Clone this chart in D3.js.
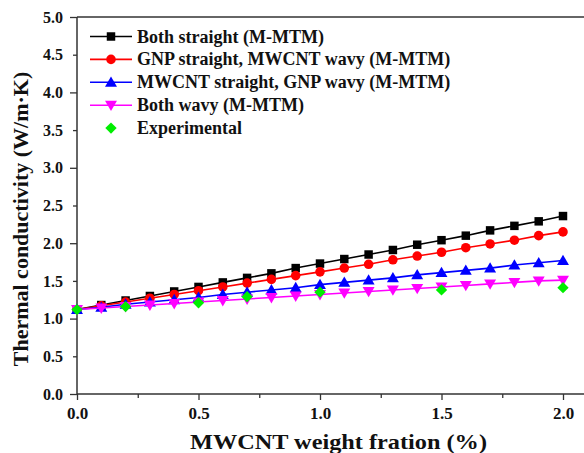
<!DOCTYPE html>
<html>
<head>
<meta charset="utf-8">
<script src="https://cdn.jsdelivr.net/npm/d3@7"></script>
<style>
  body { margin: 0; background: #fff; }
  text { font-family: "Liberation Serif", "Times New Roman", serif; font-weight: bold; }
</style>
</head>
<body>
<div class="chart"></div>
<script>
// data
var xValues = [0, 0.1, 0.2, 0.3, 0.4, 0.5, 0.6, 0.7, 0.8, 0.9, 1.0,
               1.1, 1.2, 1.3, 1.4, 1.5, 1.6, 1.7, 1.8, 1.9, 2.0];
var bothStraight = [1.12, 1.18, 1.24, 1.30, 1.36, 1.42, 1.48, 1.54, 1.60, 1.67, 1.73,
                    1.79, 1.85, 1.91, 1.98, 2.04, 2.10, 2.17, 2.23, 2.29, 2.36];
var gnpStraight = [1.12, 1.17, 1.22, 1.27, 1.32, 1.37, 1.42, 1.47, 1.52, 1.57, 1.62,
                   1.67, 1.72, 1.78, 1.83, 1.88, 1.94, 1.99, 2.04, 2.10, 2.15];
var cntStraight = [1.12, 1.15, 1.19, 1.22, 1.25, 1.28, 1.32, 1.35, 1.38, 1.41, 1.45,
                   1.48, 1.51, 1.54, 1.58, 1.61, 1.64, 1.67, 1.71, 1.74, 1.77];
var bothWavy = [1.12, 1.14, 1.16, 1.18, 1.20, 1.22, 1.24, 1.26, 1.28, 1.30, 1.32,
                1.34, 1.36, 1.38, 1.40, 1.42, 1.44, 1.46, 1.48, 1.50, 1.51];
var expX = [0, 0.2, 0.5, 0.7, 1.0, 1.5, 2.0];
var expY = [1.12, 1.16, 1.21, 1.29, 1.35, 1.38, 1.41];

var seriesNames = ["Both straight (M-MTM)", "GNP straight, MWCNT wavy (M-MTM)",
                   "MWCNT straight, GNP wavy (M-MTM)", "Both wavy (M-MTM)", "Experimental"];
var xTicks = [0, 0.5, 1.0, 1.5, 2.0];
var xMinor = [0.25, 0.75, 1.25, 1.75];
var yTicks = [0, 0.5, 1.0, 1.5, 2.0, 2.5, 3.0, 3.5, 4.0, 4.5, 5.0];

var W = 584, H = 453;
var margin = {top: 17, left: 77, bottom: 59};
var plotRight = 77 + 2.1 * 243;

var svg = d3.select(".chart").append("svg")
    .attr("width", W)
    .attr("height", H);

var xScale = d3.scaleLinear().domain([0, 2.1]).range([margin.left, plotRight]);
var yScale = d3.scaleLinear().domain([0, 5]).range([H - margin.bottom, margin.top]);

var series = [
  {name: seriesNames[0], x: xValues, y: bothStraight, color: "#000000", sym: d3.symbolSquare, size: 72, rot: 0, line: true},
  {name: seriesNames[1], x: xValues, y: gnpStraight, color: "#ff0000", sym: d3.symbolCircle, size: 72, rot: 0, line: true},
  {name: seriesNames[2], x: xValues, y: cntStraight, color: "#0000ff", sym: d3.symbolTriangle, size: 62, rot: 0, line: true},
  {name: seriesNames[3], x: xValues, y: bothWavy, color: "#ff00ff", sym: d3.symbolTriangle, size: 62, rot: 180, line: true},
  {name: seriesNames[4], x: expX, y: expY, color: "#00ee00", sym: d3.symbolSquare, size: 64, rot: 45, line: false}
];

// top frame line
svg.append("line")
  .attr("x1", margin.left).attr("x2", W)
  .attr("y1", margin.top).attr("y2", margin.top)
  .attr("stroke", "#333").attr("stroke-width", 1.5);

// x axis
var xAxis = d3.axisBottom(xScale)
  .tickValues(xTicks)
  .tickFormat(d3.format(".1f"))
  .tickSize(6)
  .tickPadding(7);
var gx = svg.append("g")
  .attr("transform", "translate(0," + yScale(0) + ")")
  .call(xAxis);
gx.select(".domain").attr("d", "M" + margin.left + ",0H" + plotRight);
svg.append("g")
  .attr("transform", "translate(0," + yScale(0) + ")")
  .call(d3.axisBottom(xScale).tickValues(xMinor).tickSize(4).tickFormat(""))
  .select(".domain").remove();

// y axis: long ticks at whole numbers, short at halves
var yAxis = d3.axisLeft(yScale)
  .tickValues(yTicks)
  .tickFormat(d3.format(".1f"))
  .tickSize(7)
  .tickPadding(7);
var gy = svg.append("g")
  .attr("transform", "translate(" + margin.left + ",0)")
  .call(yAxis);
gy.select(".domain").attr("d", "M0," + yScale(0) + "V" + yScale(5));
gy.selectAll(".tick").filter(function(d) { return d % 1 !== 0; })
  .select("line").attr("x2", -4);

svg.selectAll(".domain").attr("stroke", "#333").attr("stroke-width", 1.5);
svg.selectAll(".tick line").attr("stroke", "#333").attr("stroke-width", 1.3);
svg.selectAll(".tick text")
  .attr("font-size", 16)
  .attr("fill", "#111");
gx.selectAll(".tick text").attr("font-size", 17);

// axis titles
svg.append("text")
  .attr("x", 190).attr("y", 449)
  .attr("font-size", 21)
  .attr("textLength", 297)
  .attr("lengthAdjust", "spacingAndGlyphs")
  .attr("fill", "#111")
  .text("MWCNT weight fration (%)");

svg.append("text")
  .attr("transform", "translate(28,219) rotate(-90)")
  .attr("text-anchor", "middle")
  .attr("font-size", 22)
  .attr("fill", "#111")
  .text("Thermal conductivity (W/m\u00b7K)");

// lines and markers
var line = d3.line()
  .x(function(d) { return xScale(d[0]); })
  .y(function(d) { return yScale(d[1]); });

function symOffset(s) {
  return s.sym === d3.symbolTriangle ? (s.rot ? -1 : 1) : 0;
}

series.forEach(function(s) {
  var pts = s.x.map(function(v, i) { return [v, s.y[i]]; });
  if (s.line) {
    svg.append("path")
      .datum(pts)
      .attr("d", line)
      .attr("fill", "none")
      .attr("stroke", s.color)
      .attr("stroke-width", 1.6);
  }
  svg.append("g").selectAll("path")
    .data(pts)
    .enter().append("path")
    .attr("d", d3.symbol().type(s.sym).size(s.size))
    .attr("transform", function(d) {
      return "translate(" + xScale(d[0]) + "," + (yScale(d[1]) + symOffset(s)) + ") rotate(" + s.rot + ")";
    })
    .attr("fill", s.color);
});

// legend
var legend = svg.append("g").attr("class", "legend");
series.forEach(function(s, i) {
  var y = 36.5 + i * 22.9;
  var g = legend.append("g").attr("transform", "translate(0," + y + ")");
  if (s.line) {
    g.append("line")
      .attr("x1", 90).attr("x2", 132)
      .attr("stroke", s.color).attr("stroke-width", 1.6);
  }
  g.append("path")
    .attr("d", d3.symbol().type(s.sym).size(s.size))
    .attr("transform", "translate(111," + symOffset(s) + ") rotate(" + s.rot + ")")
    .attr("fill", s.color);
  g.append("text")
    .attr("x", 137).attr("y", 6)
    .attr("font-size", 18)
    .attr("fill", "#111")
    .text(s.name);
});
</script>
</body>
</html>
